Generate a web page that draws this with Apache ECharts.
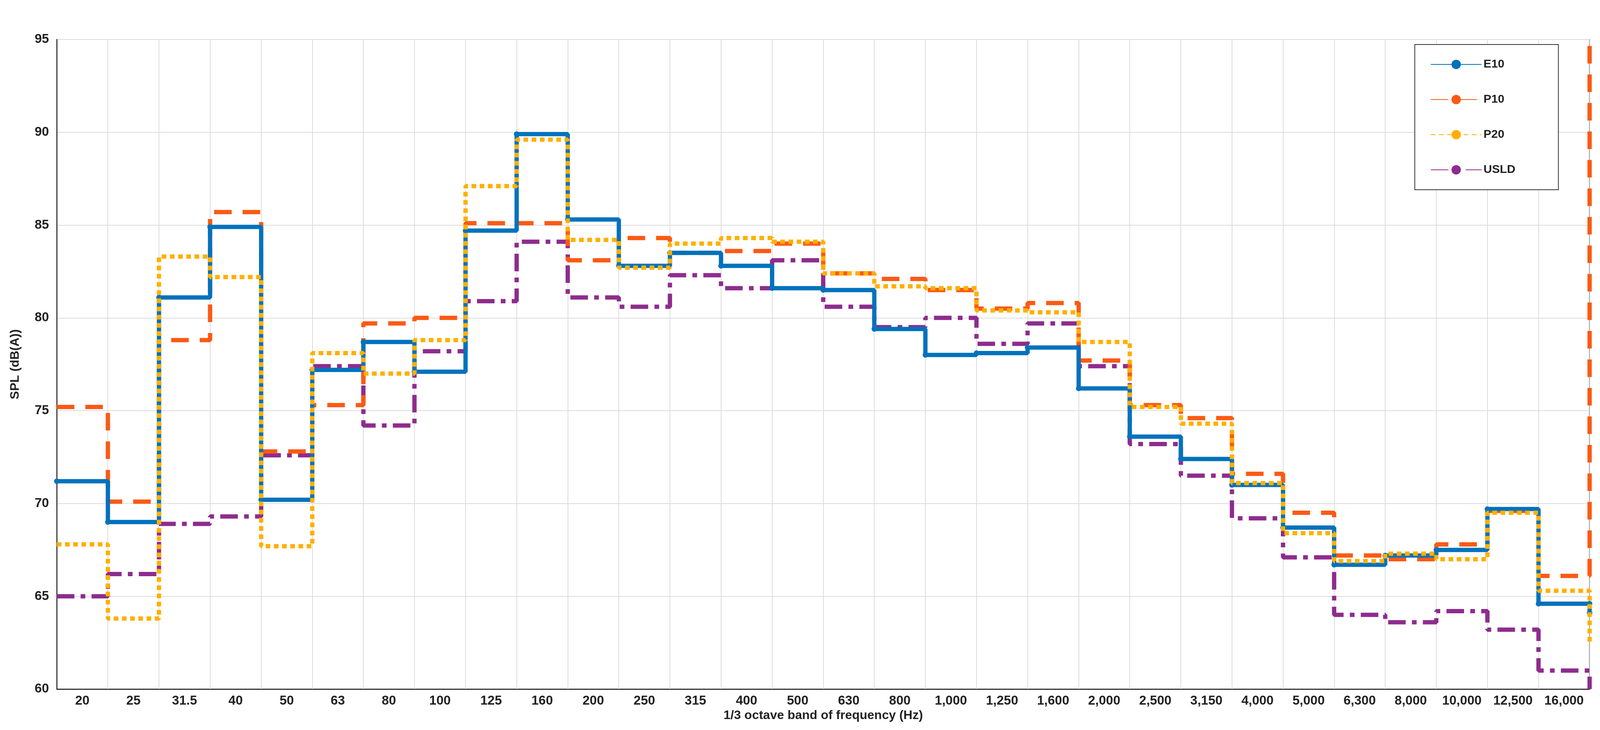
<!DOCTYPE html>
<html>
<head>
<meta charset="utf-8">
<script src="https://cdn.jsdelivr.net/npm/echarts@6/dist/echarts.min.js"></script>
<style>html,body{margin:0;padding:0;background:#fff;overflow:hidden}#chart{width:100vw;height:100vh}</style>
</head>
<body>
<div id="chart"></div>
<script>
// 1/3 octave bands
const bands = ['20','25','31.5','40','50','63','80','100','125','160','200','250','315','400','500','630','800','1,000','1,250','1,600','2,000','2,500','3,150','4,000','5,000','6,300','8,000','10,000','12,500','16,000'];

// SPL per band
const e10  = [71.2,69.0,81.1,84.9,70.2,77.2,78.7,77.1,84.7,89.9,85.3,82.8,83.5,82.8,81.6,81.5,79.4,78.0,78.1,78.4,76.2,73.6,72.4,71.0,68.7,66.7,67.2,67.5,69.7,64.6];
const p10  = [75.2,70.1,78.8,85.7,72.8,75.3,79.7,80.0,85.1,85.1,83.1,84.3,83.5,83.6,84.0,82.4,82.1,81.5,80.5,80.8,77.7,75.3,74.6,71.6,69.5,67.2,67.0,67.8,69.6,66.1];
const p20  = [67.8,63.8,83.3,82.2,67.7,78.1,77.0,78.8,87.1,89.6,84.2,82.7,84.0,84.3,84.1,82.4,81.7,81.6,80.4,80.3,78.7,75.2,74.3,71.1,68.4,66.9,67.3,67.0,69.5,65.3];
const usld = [65.0,66.2,68.9,69.3,72.6,77.4,74.2,78.2,80.9,84.1,81.1,80.6,82.3,81.6,83.1,80.6,79.5,80.0,78.6,79.7,77.4,73.2,71.5,69.2,67.1,64.0,63.6,64.2,63.2,61.0];
// level at the right edge
const endLevels = { E10: 64.1, P10: 95, P20: 62.5, USLD: 60 };

function steps(vals, end) {
    const pts = vals.map((v, i) => [i, v]);
    pts.push([vals.length, vals[vals.length - 1]]);
    pts.push([vals.length, end]);
    return pts;
}

const chart = echarts.init(document.getElementById('chart'));
const font = 'Liberation Sans, Arial, sans-serif';

chart.setOption({
    animation: false,
    grid: { left: '3.55%', right: '0.65%', top: '5.4%', bottom: '5.6%', show: true, borderColor: '#222', borderWidth: 2 },
    legend: {
        orient: 'vertical', right: '2.6%', top: '6.1%',
        padding: [36, 110, 36, 40], itemGap: 60, itemWidth: 130, itemHeight: 30,
        borderColor: '#333', borderWidth: 2, backgroundColor: '#fff',
        textStyle: { fontFamily: font, fontSize: 30, fontWeight: 'bold', color: '#222' },
        data: ['E10', 'P10', 'P20', 'USLD']
    },
    xAxis: [{
        type: 'category', data: bands, boundaryGap: true,
        name: '1/3 octave band of frequency (Hz)', nameLocation: 'middle', nameGap: 50,
        nameTextStyle: { fontFamily: font, fontSize: 32, fontWeight: 'bold', color: '#222' },
        axisLine: { lineStyle: { color: '#222', width: 2 } },
        axisTick: { show: false },
        axisLabel: { fontFamily: font, fontSize: 33, fontWeight: 'bold', color: '#222', interval: 0, margin: 14 },
        splitLine: { show: true, lineStyle: { color: '#dcdcdc', width: 2 } }
    }, {
        type: 'value', min: 0, max: bands.length, show: false
    }],
    yAxis: {
        type: 'value', min: 60, max: 95, interval: 5,
        name: 'SPL (dB(A))', nameLocation: 'middle', nameGap: 90,
        nameTextStyle: { fontFamily: font, fontSize: 32, fontWeight: 'bold', color: '#222' },
        axisLine: { show: true, lineStyle: { color: '#222', width: 2 } },
        axisTick: { show: false },
        axisLabel: { fontFamily: font, fontSize: 33, fontWeight: 'bold', color: '#222', margin: 20 },
        splitLine: { show: true, lineStyle: { color: '#dcdcdc', width: 2 } }
    },
    series: [
        { name: 'E10', type: 'line', xAxisIndex: 1, step: 'end', data: steps(e10, endLevels.E10),
          symbol: 'circle', symbolSize: 14, itemStyle: { color: '#0072bd' },
          lineStyle: { color: '#0072bd', width: 11 }, z: 5 },
        { name: 'P10', type: 'line', xAxisIndex: 1, step: 'end', data: steps(p10, endLevels.P10),
          symbol: 'none', itemStyle: { color: '#fb5a14' },
          lineStyle: { color: '#fb5a14', width: 11, type: [45, 28] }, z: 4 },
        { name: 'P20', type: 'line', xAxisIndex: 1, step: 'end', data: steps(p20, endLevels.P20),
          symbol: 'none', itemStyle: { color: '#ffb000' },
          lineStyle: { color: '#ffb000', width: 11, type: [12, 9] }, z: 6 },
        { name: 'USLD', type: 'line', xAxisIndex: 1, step: 'end', data: steps(usld, endLevels.USLD),
          symbol: 'none', itemStyle: { color: '#8e2c8e' },
          lineStyle: { color: '#8e2c8e', width: 11, type: [45, 16, 12, 16] }, z: 3 }
    ]
});
window.addEventListener('resize', () => chart.resize());
</script>
</body>
</html>
